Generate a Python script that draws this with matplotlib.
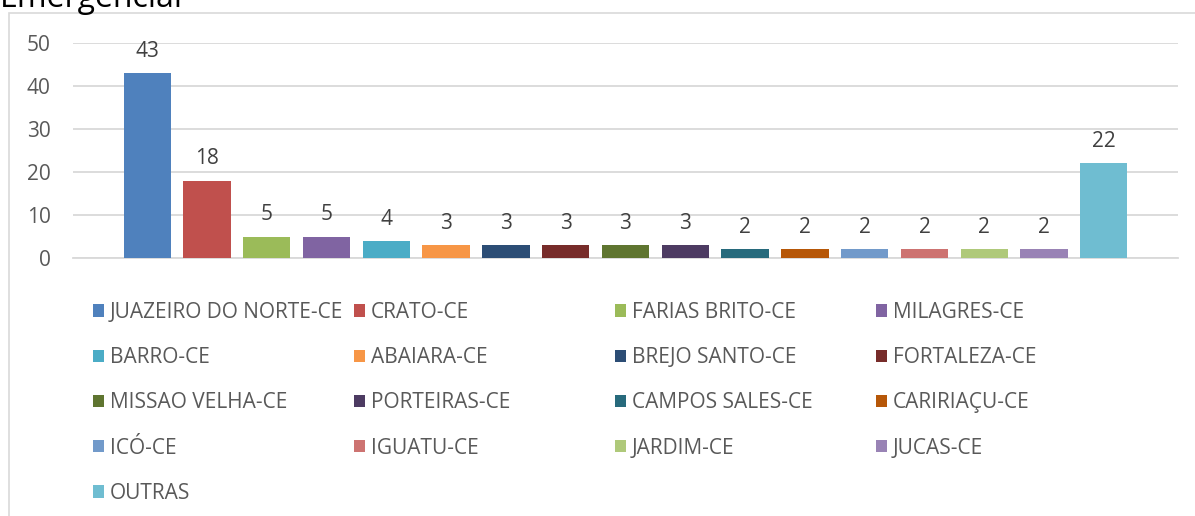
import matplotlib.pyplot as plt
from matplotlib.patches import Patch, Rectangle

# data
cities = ["JUAZEIRO DO NORTE-CE", "CRATO-CE", "FARIAS BRITO-CE", "MILAGRES-CE",
          "BARRO-CE", "ABAIARA-CE", "BREJO SANTO-CE", "FORTALEZA-CE",
          "MISSAO VELHA-CE", "PORTEIRAS-CE", "CAMPOS SALES-CE", "CARIRIAÇU-CE",
          "ICÓ-CE", "IGUATU-CE", "JARDIM-CE", "JUCAS-CE", "OUTRAS"]
counts = [43, 18, 5, 5, 4, 3, 3, 3, 3, 3, 2, 2, 2, 2, 2, 2, 22]
colors = ["#4F81BD", "#C0504D", "#9BBB59", "#8064A2", "#4BACC6", "#F79646",
          "#2C4D75", "#772C2A", "#5F7530", "#4D3B62", "#276A7C", "#B65708",
          "#729ACA", "#CD7371", "#AFC97A", "#9983B5", "#6FBDD1"]
yticks = [0, 10, 20, 30, 40, 50]

plt.rcParams['font.family'] = ['Open Sans', 'DejaVu Sans']
txt_color = '#595959'
W, H = 1195, 516
fig = plt.figure(figsize=(W / 100, H / 100), dpi=100)

# outer chart frame (partly cut off like the original)
fig.patches.append(Rectangle((9 / W, -0.01), 1.0, (H - 13) / H + 0.01,
                             transform=fig.transFigure, fill=False,
                             edgecolor='#d9d9d9', linewidth=1.2))
# title only partly visible at the top, as in the source image
fig.text(0.0, (H - 7) / H, "Emergencial", fontsize=23, color='black',
         ha='left', va='baseline')

ax = fig.add_axes([73 / W, 0.5, (1178 - 73) / W, (258 - 43) / H])
x = list(range(len(cities)))
bars = ax.bar(x, counts, width=0.79, color=colors, zorder=3)
ax.bar_label(bars, padding=8, fontsize=15, color='#404040')

ax.set_ylim(0, 50)
ax.set_yticks(yticks)
ax.set_xlim(-1.24, len(cities) - 1 + 1.24)
ax.set_xticks([])
ax.grid(axis='y', color='#d9d9d9', linewidth=1.3, zorder=0)
for s in ['left', 'right', 'top']:
    ax.spines[s].set_visible(False)
ax.spines['bottom'].set_color('#d9d9d9')
ax.spines['bottom'].set_linewidth(1.3)
ax.tick_params(axis='y', length=0, pad=16, labelsize=15, labelcolor=txt_color)

# legend laid out in four equal columns, filled row by row
col_x = [93, 354, 615, 876]
for c in range(4):
    idx = list(range(c, len(cities), 4))
    handles = [Patch(facecolor=colors[i], edgecolor='none') for i in idx]
    labels = [cities[i] for i in idx]
    leg = fig.legend(handles, labels, loc='upper left',
                     bbox_to_anchor=(col_x[c] / W, (H - 302) / H),
                     frameon=False, fontsize=15, handlelength=0.55,
                     handleheight=0.55, handletextpad=0.25,
                     labelspacing=1.16, borderaxespad=0, borderpad=0)
    for t in leg.get_texts():
        t.set_color(txt_color)

fig.savefig('out.png', dpi=100)
